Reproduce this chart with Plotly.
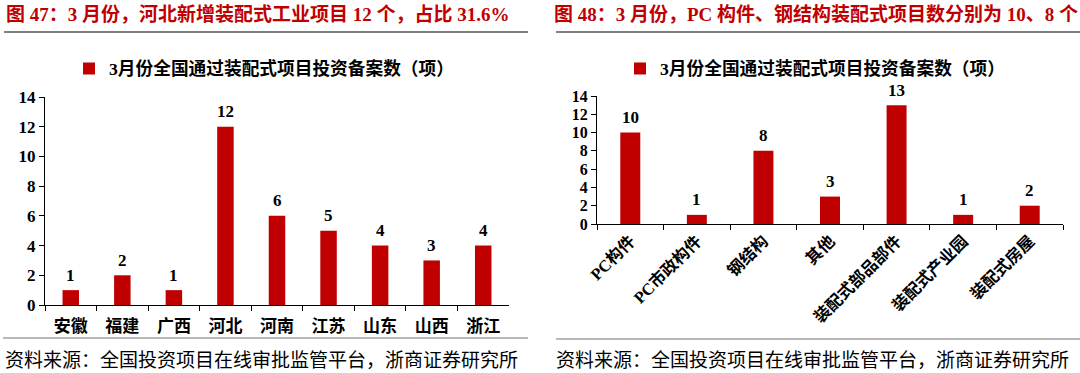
import plotly.graph_objects as go

W, H = 1080, 373

# ---- data ----
left_title = "图 47：3 月份，河北新增装配式工业项目 12 个，占比 31.6%"
right_title = "图 48：3 月份，PC 构件、钢结构装配式项目数分别为 10、8 个"
series_name = "3月份全国通过装配式项目投资备案数（项）"
source_text = "资料来源：全国投资项目在线审批监管平台，浙商证券研究所"

left_categories = ["安徽", "福建", "广西", "河北", "河南", "江苏", "山东", "山西", "浙江"]
left_values = [1, 2, 1, 12, 6, 5, 4, 3, 4]

right_categories = ["PC构件", "PC市政构件", "钢结构", "其他", "装配式部品部件", "装配式产业园", "装配式房屋"]
right_values = [10, 1, 8, 3, 13, 1, 2]

y_ticks = [0, 2, 4, 6, 8, 10, 12, 14]

RED = "#C00000"
SERIF = "Liberation Serif, Times New Roman, Noto Sans CJK SC, serif"


def px_x(p):
    return p / W


def px_y(p):
    return 1 - p / H


fig = go.Figure()

fig.add_trace(go.Bar(
    x=left_categories, y=left_values, name=series_name,
    marker=dict(color=RED, line=dict(width=0)),
    width=0.32,
    xaxis="x", yaxis="y", legend="legend",
))

fig.add_trace(go.Bar(
    x=right_categories, y=right_values, name=series_name,
    marker=dict(color=RED, line=dict(width=0)),
    width=0.3,
    xaxis="x2", yaxis="y2", legend="legend2",
))

# value labels
for cats, vals, xr, yr in [(left_categories, left_values, "x", "y"),
                           (right_categories, right_values, "x2", "y2")]:
    for c, v in zip(cats, vals):
        fig.add_annotation(x=c, y=v, xref=xr, yref=yr, text=str(v),
                           showarrow=False, yanchor="middle", yshift=15,
                           font=dict(size=17, family=SERIF, color="#000000", weight="bold"))

axis_common = dict(
    showline=True, linecolor="#000000", linewidth=1,
    ticks="outside", tickcolor="#000000", ticklen=5, tickwidth=1,
    showgrid=False, zeroline=False, fixedrange=True, automargin=False,
)

fig.update_layout(
    template="none",
    width=W, height=H, autosize=False,
    margin=dict(l=0, r=0, t=0, b=0, pad=0, autoexpand=False),
    paper_bgcolor="white", plot_bgcolor="white",
    font=dict(family=SERIF, color="#000000"),
    xaxis=dict(domain=[px_x(45), px_x(509)], anchor="y", tickson="boundaries",
               ticklabelstandoff=6,
               tickfont=dict(size=17, family=SERIF, weight="bold"), **axis_common),
    yaxis=dict(domain=[px_y(305), px_y(97)], anchor="x", range=[0, 14],
               tickvals=y_ticks, tickfont=dict(size=17, family=SERIF, weight="bold"),
               **axis_common),
    xaxis2=dict(domain=[px_x(597), px_x(1063)], anchor="y2", tickson="boundaries",
                tickangle=-45,
                tickfont=dict(size=16.5, family=SERIF, weight="bold"), **axis_common),
    yaxis2=dict(domain=[px_y(224), px_y(96)], anchor="x2", range=[0, 14],
                tickvals=y_ticks, tickfont=dict(size=16, family=SERIF, weight="bold"),
                **axis_common),
    legend=dict(x=px_x(264), y=px_y(69), xanchor="center", yanchor="middle",
                orientation="h", bgcolor="rgba(0,0,0,0)", borderwidth=0,
                font=dict(size=17.7, family=SERIF, weight="bold"),
                itemwidth=30),
    legend2=dict(x=px_x(815), y=px_y(69), xanchor="center", yanchor="middle",
                 orientation="h", bgcolor="rgba(0,0,0,0)", borderwidth=0,
                 font=dict(size=17.7, family=SERIF, weight="bold"),
                 itemwidth=30),
    showlegend=True,
)

# titles
fig.add_annotation(text=left_title, xref="paper", yref="paper",
                   x=px_x(258), y=px_y(14), xanchor="center", yanchor="middle",
                   showarrow=False,
                   font=dict(size=19, color=RED, family=SERIF, weight="bold"))
fig.add_annotation(text=right_title, xref="paper", yref="paper",
                   x=px_x(816), y=px_y(14), xanchor="center", yanchor="middle",
                   showarrow=False,
                   font=dict(size=19, color=RED, family=SERIF, weight="bold"))

# sources
fig.add_annotation(text=source_text, xref="paper", yref="paper",
                   x=px_x(261), y=px_y(360), xanchor="center", yanchor="middle",
                   showarrow=False,
                   font=dict(size=19, color="#000000", family=SERIF))
fig.add_annotation(text=source_text, xref="paper", yref="paper",
                   x=px_x(812), y=px_y(360), xanchor="center", yanchor="middle",
                   showarrow=False,
                   font=dict(size=19, color="#000000", family=SERIF))

# rules
fig.add_shape(type="line", xref="paper", yref="paper",
              x0=px_x(4), x1=px_x(528), y0=px_y(32), y1=px_y(32),
              line=dict(color="#000000", width=1.2))
fig.add_shape(type="line", xref="paper", yref="paper",
              x0=px_x(556), x1=px_x(1080), y0=px_y(32), y1=px_y(32),
              line=dict(color="#000000", width=1.2))
fig.add_shape(type="line", xref="paper", yref="paper",
              x0=px_x(3), x1=px_x(528), y0=px_y(338), y1=px_y(338),
              line=dict(color="#A0A0A0", width=1.5))
fig.add_shape(type="line", xref="paper", yref="paper",
              x0=px_x(556), x1=px_x(1080), y0=px_y(339), y1=px_y(339),
              line=dict(color="#A0A0A0", width=1.5))

fig.write_html("out.html", config={"displayModeBar": False},
               post_script="document.body.style.margin='0';document.body.style.overflow='hidden';")
